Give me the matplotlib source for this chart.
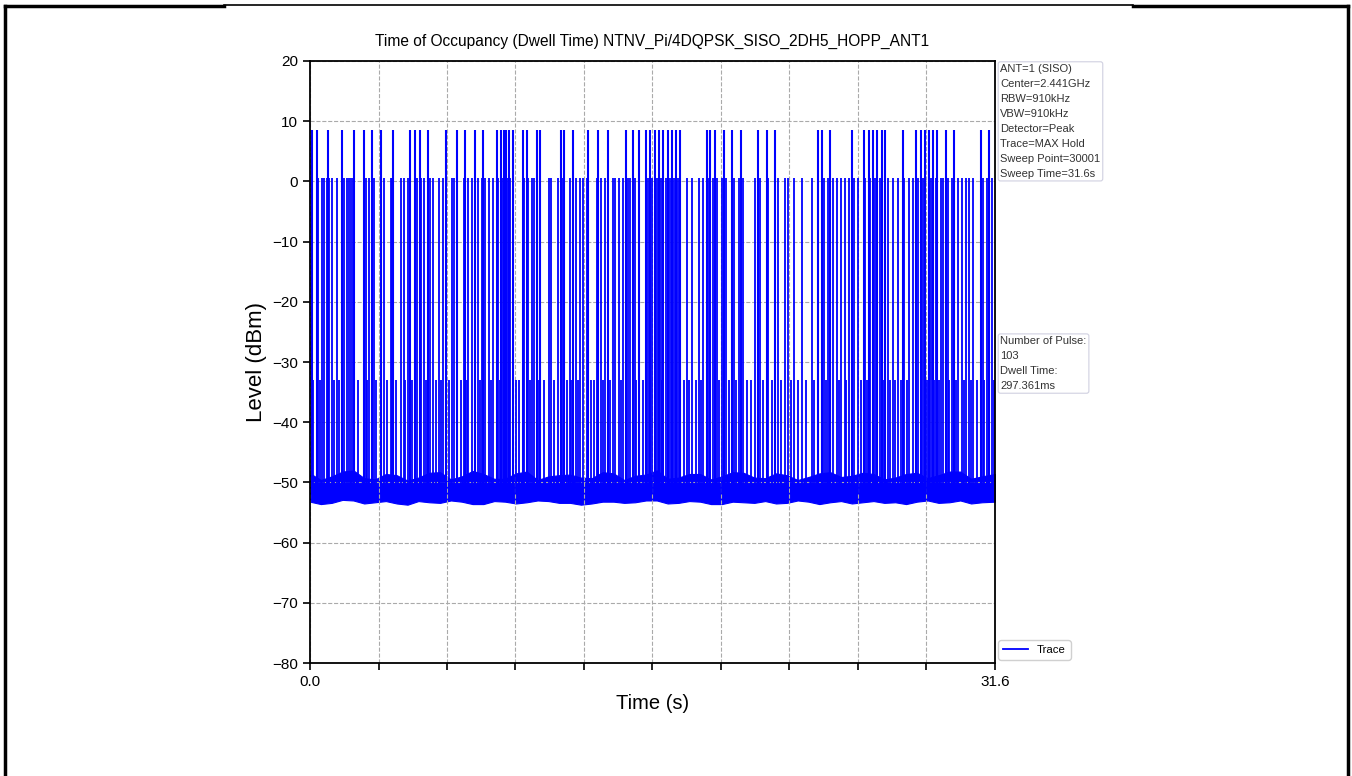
import matplotlib.pyplot as plt
import matplotlib.lines as mlines
import numpy as np

plt.rcParams['font.family'] = ['Liberation Sans', 'DejaVu Sans']

# pulse times (s), grouped by the level they reach
tall_t = [0.08, 0.31, 0.84, 1.46, 2.04, 2.48, 2.86, 3.28, 3.83, 4.61, 4.84, 5.06, 5.44,
          6.26, 6.80, 7.16, 7.60, 7.99, 8.61, 8.81, 8.96, 9.04, 9.19, 9.38, 9.81, 10.00,
          10.46, 10.61, 11.58, 11.73, 12.15, 12.84, 13.30, 13.73, 14.58, 14.89, 15.19,
          15.50, 15.70, 15.91, 16.10, 16.30, 16.50, 16.69, 16.87, 17.08, 18.31, 18.47,
          18.68, 19.08, 19.48, 19.87, 20.65, 21.07, 21.45, 23.42, 23.60, 23.98, 24.99,
          25.57, 25.79, 25.98, 26.17, 26.37, 26.55, 27.35, 27.95, 28.18, 28.37, 28.55,
          28.75, 28.95, 29.34, 29.72, 30.95, 31.34]
tall_lvl = 8.5

mid_t = [0.38, 0.57, 0.65, 0.77, 0.89, 1.00, 1.23, 1.58, 1.69, 1.80, 1.88, 2.00, 2.57,
         2.74, 2.95, 3.40, 3.74, 3.78, 4.18, 4.32, 4.52, 4.94, 5.12, 5.27, 5.54, 5.69,
         5.94, 6.14, 6.54, 6.64, 6.77, 7.10, 7.30, 7.46, 7.75, 7.92, 8.07, 8.27, 8.46,
         8.69, 8.87, 9.10, 9.23, 9.89, 10.07, 10.25, 10.35, 11.03, 11.13, 11.45, 11.64,
         11.99, 12.26, 12.46, 12.58, 12.79, 13.23, 13.42, 13.61, 13.96, 14.07, 14.25,
         14.45, 14.66, 14.76, 14.99, 15.18, 15.61, 15.79, 16.01, 16.19, 16.41, 16.61,
         16.78, 16.99, 17.38, 17.61, 17.96, 18.14, 18.37, 18.58, 18.79, 18.99, 19.18,
         19.57, 19.79, 19.99, 20.53, 20.76, 21.14, 21.58, 21.91, 22.06, 22.34, 22.71,
         23.14, 23.45, 23.72, 23.91, 24.14, 24.30, 24.49, 24.68, 24.88, 25.09, 25.26,
         25.60, 25.83, 26.06, 26.29, 26.65, 26.88, 27.11, 27.41, 27.65, 27.80, 28.06,
         28.29, 28.65, 28.88, 29.11, 29.21, 29.44, 29.63, 29.91, 30.06, 30.25, 30.41,
         30.60, 31.03, 31.22, 31.45]
mid_lvl = 0.5

low_t = [0.15, 0.48, 1.10, 1.35, 2.20, 2.65, 3.05, 3.55, 3.95, 4.40, 4.70, 5.35, 5.80,
         6.05, 6.40, 6.95, 7.25, 7.85, 8.35, 8.75, 9.50, 9.65, 10.15, 10.55, 10.80,
         11.25, 11.85, 12.05, 12.35, 12.95, 13.10, 13.50, 13.85, 14.35, 15.05, 15.35,
         16.25, 16.90, 17.25, 17.50, 17.80, 18.05, 18.85, 19.35, 19.65, 20.15, 20.35,
         20.90, 21.30, 21.75, 22.20, 22.50, 22.90, 23.25, 23.80, 24.40, 24.75, 25.40,
         25.70, 26.45, 26.75, 27.00, 27.25, 27.55, 28.45, 28.80, 29.00, 29.50, 29.80,
         30.15, 30.50, 30.75, 31.10, 31.55]
low_lvl = -33.0

# noise floor envelope, read roughly every half second
floor_t = [0, 0.5, 1, 1.5, 2, 2.5, 3, 3.5, 4, 4.5, 5, 5.5, 6, 6.5, 7, 7.5, 8, 8.5, 9,
           9.5, 10, 10.5, 11, 11.5, 12, 12.5, 13, 13.5, 14, 14.5, 15, 15.5, 16, 16.5,
           17, 17.5, 18, 18.5, 19, 19.5, 20, 20.5, 21, 21.5, 22, 22.5, 23, 23.5, 24,
           24.5, 25, 25.5, 26, 26.5, 27, 27.5, 28, 28.5, 29, 29.5, 30, 30.5, 31, 31.6]
floor_hi = [-48.5, -49.6, -49.0, -48.2, -48.0, -49.3, -49.5, -48.6, -48.8, -49.7,
            -49.2, -48.4, -48.3, -49.5, -49.0, -48.1, -48.6, -49.4, -49.4, -48.5,
            -48.2, -49.6, -49.0, -48.8, -48.7, -49.2, -49.3, -48.3, -48.5, -49.6,
            -48.9, -48.7, -48.0, -49.4, -49.2, -48.6, -48.6, -49.5, -49.0, -48.3,
            -48.4, -49.2, -49.3, -48.5, -48.8, -49.6, -49.1, -48.5, -48.3, -49.1,
            -48.9, -48.4, -48.6, -49.5, -49.2, -48.6, -48.4, -49.3, -48.8, -48.2,
            -48.2, -49.4, -49.0, -48.6]
floor_lo = [-53.2, -53.6, -53.4, -52.9, -53.0, -53.5, -53.3, -53.1, -53.5, -53.7,
            -53.1, -53.3, -53.4, -53.0, -53.2, -53.6, -53.6, -53.1, -53.2, -53.5,
            -53.3, -53.0, -53.1, -53.4, -53.4, -53.7, -53.5, -53.2, -53.2, -53.4,
            -53.3, -53.0, -53.0, -53.5, -53.4, -53.1, -53.2, -53.6, -53.6, -53.2,
            -53.3, -53.4, -53.1, -53.5, -53.4, -53.0, -53.2, -53.6, -53.3, -53.1,
            -53.5, -53.3, -53.1, -53.4, -53.3, -53.6, -53.2, -53.0, -53.4, -53.3,
            -53.0, -53.5, -53.3, -53.2]

sweep_time = 31.6
info1 = ("ANT=1 (SISO)\nCenter=2.441GHz\nRBW=910kHz\nVBW=910kHz\nDetector=Peak\n"
         "Trace=MAX Hold\nSweep Point=30001\nSweep Time=31.6s")
info2 = "Number of Pulse:\n103\nDwell Time:\n297.361ms"

fig = plt.figure(figsize=(13.52, 7.76), dpi=100)
ax = fig.add_axes([0.2293, 0.1456, 0.5066, 0.7758])

ax.fill_between(floor_t, floor_lo, floor_hi, color='blue', lw=0.8)
ax.vlines(low_t, -52, low_lvl, color='blue', lw=1.3)
ax.vlines(mid_t, -52, mid_lvl, color='blue', lw=1.3)
ax.vlines(tall_t, -52, tall_lvl, color='blue', lw=1.5)
ax.plot([], [], color='blue', lw=1.3, label='Trace')

ax.set_xlim(0, sweep_time)
ax.set_ylim(-80, 20)
xt = np.linspace(0, sweep_time, 11)
ax.set_xticks(xt)
ax.set_xticklabels(['0.0'] + [''] * 9 + ['31.6'])
ax.set_yticks(range(-80, 21, 10))
ax.tick_params(labelsize=11, length=5, width=1.2)
ax.grid(True, ls='--', color='#aaaaaa', lw=0.8)
for s in ax.spines.values():
    s.set_linewidth(1.3)

ax.set_title('Time of Occupancy (Dwell Time) NTNV_Pi/4DQPSK_SISO_2DH5_HOPP_ANT1',
             fontsize=11.2, pad=11)
ax.set_ylabel('Level (dBm)', fontsize=16)
ax.set_xlabel('Time (s)', fontsize=14.5, labelpad=4)

box = dict(boxstyle='round,pad=0.2', fc='white', ec='#d0d0e0', lw=0.8)
ax.text(1.008, 0.995, info1, transform=ax.transAxes, fontsize=8, va='top', ha='left',
        linespacing=1.62, color='#333333', bbox=box)
ax.text(1.008, 0.543, info2, transform=ax.transAxes, fontsize=8, va='top', ha='left',
        linespacing=1.62, color='#333333', bbox=box)
ax.legend(loc='lower left', bbox_to_anchor=(1.0, 0.0), fontsize=8.2, handlelength=2.2,
          borderaxespad=0.3, fancybox=True, framealpha=1, edgecolor='#d0d0d0')

# page frame around the figure
frame = [([0.004, 0.004], [0.0, 0.992], 2.5),
         ([0.004, 0.166], [0.992, 0.992], 2.5),
         ([0.166, 0.838], [0.993, 0.993], 1.2),
         ([0.838, 0.997], [0.992, 0.992], 2.5),
         ([0.997, 0.997], [0.0, 0.992], 2.5)]
for xs, ys, w in frame:
    fig.add_artist(mlines.Line2D(xs, ys, color='black', lw=w, transform=fig.transFigure))

fig.savefig('out.png', dpi=100)
